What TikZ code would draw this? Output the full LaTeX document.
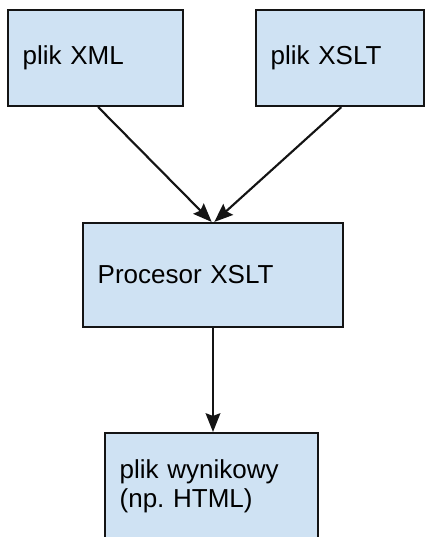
\documentclass[tikz,border=0pt]{standalone}
\usepackage{fontspec}
\setmainfont{Liberation Sans}
\usetikzlibrary{arrows.meta,positioning}
\definecolor{XSblue}{RGB}{207,226,243}
\definecolor{XSline}{RGB}{20,20,20}
\tikzset{
  filebox/.style={draw=XSline,line width=1.6pt,fill=XSblue,align=left,
                  inner xsep=11pt,inner ysep=0pt,anchor=center,
                  font=\fontsize{19.5}{22}\selectfont},
  fl/.style={-{Stealth[length=14pt,width=11pt,inset=2pt]},line width=1.6pt,draw=XSline}
}
\begin{document}
\frenchspacing
\begin{tikzpicture}[x=0.75pt,y=-0.75pt]
  \clip (0,0) rectangle (428,537);
  \node[filebox,text width=109.25pt,minimum height=72pt] (xml) at (95.5,58) {plik XML};
  \node[filebox,text width=104pt,minimum height=72pt] (xslt) at (340,58) {plik XSLT};
  \node[filebox,text width=173pt,minimum height=78pt] (proc) at (213,275) {Procesor XSLT};
  \node[filebox,text width=137.75pt,minimum height=79.5pt] (out) at (211.5,486) {plik wynikowy\\(np. HTML)};
  \draw[fl] ([xshift=2pt]xml.south) -- ([xshift=-1pt]proc.north);
  \draw[fl] ([xshift=1pt]xslt.south) -- ([xshift=1pt]proc.north);
  \draw[fl] (proc.south) -- (proc.south |- out.north);
\end{tikzpicture}
\end{document}
